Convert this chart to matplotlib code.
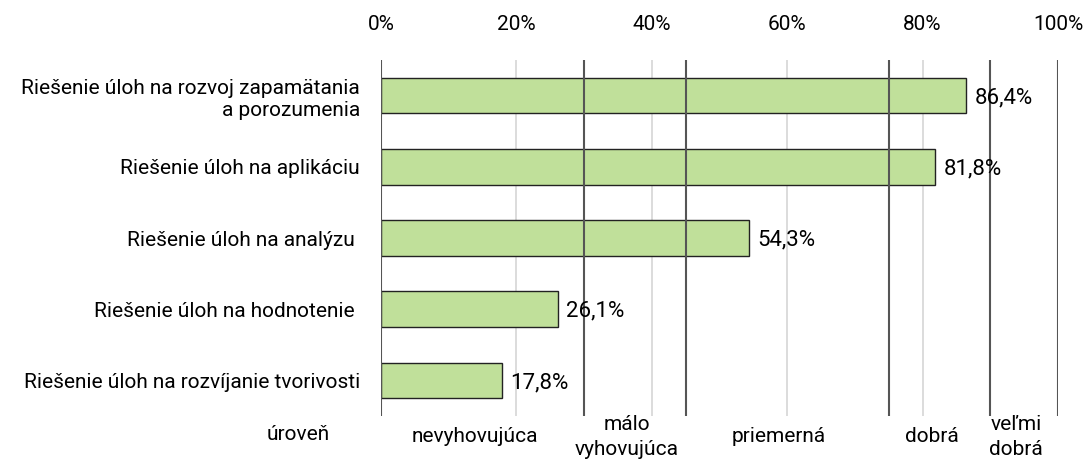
import matplotlib
matplotlib.use("Agg")
import matplotlib.pyplot as plt

kategorie = ['Riešenie úloh na rozvoj zapamätania\na porozumenia',
             'Riešenie úloh na aplikáciu',
             'Riešenie úloh na analýzu ',
             'Riešenie úloh na hodnotenie ',
             'Riešenie úloh na rozvíjanie tvorivosti']
hodnoty = [86.4, 81.8, 54.3, 26.1, 17.8]
hranice = [0, 30, 45, 75, 90, 100]
urovne = ['nevyhovujúca', 'málo\nvyhovujúca', 'priemerná', 'dobrá', 'veľmi\ndobrá']
tiky = [0, 20, 40, 60, 80, 100]

plt.rcParams['font.family'] = ['Roboto', 'DejaVu Sans']

fig = plt.figure(figsize=(10.85, 4.61), dpi=100)
ax = fig.add_axes([381/1085, 1 - 416/461, 677/1085, 356/461])

y = list(range(len(kategorie)))
ax.barh(y, hodnoty, height=0.5, color='#c0e09a', edgecolor='#222222', linewidth=1, zorder=3)
for yi, v in zip(y, hodnoty):
    ax.text(v + 1.3, yi + 0.03, f'{v:.1f}%'.replace('.', ','), va='center', ha='left',
            fontsize=16, color='black', zorder=5)

# svetlá mriežka a tmavé hranice úrovní
for g in [20, 40, 60, 80]:
    ax.axvline(g, color='#d9d9d9', linewidth=1.3, zorder=1)
for h in hranice:
    ax.axvline(h, color='#555555', linewidth=1.5, zorder=4)

ax.set_xlim(0, 100)
ax.set_ylim(len(kategorie) - 0.5, -0.5)
ax.set_yticks(y)
ax.set_yticklabels(kategorie, fontsize=15, linespacing=1.25)
ax.set_xticks(tiky)
ax.set_xticklabels([f'{t}%' for t in tiky], fontsize=15)
ax.xaxis.tick_top()
ax.tick_params(axis='both', length=0)
ax.tick_params(axis='x', pad=19)
ax.tick_params(axis='y', pad=15)
for s in ax.spines.values():
    s.set_visible(False)

# popisy úrovní pod grafom
for a, b, t in zip(hranice[:-1], hranice[1:], urovne):
    ax.text((a + b) / 2 - 1.2, -0.058, t, transform=ax.get_xaxis_transform(), ha='center', va='center',
            fontsize=15, linespacing=1.4)
ax.text(-12.3, -0.053, 'úroveň', transform=ax.get_xaxis_transform(), ha='center', va='center', fontsize=15)

plt.savefig('out.png', dpi=100)
